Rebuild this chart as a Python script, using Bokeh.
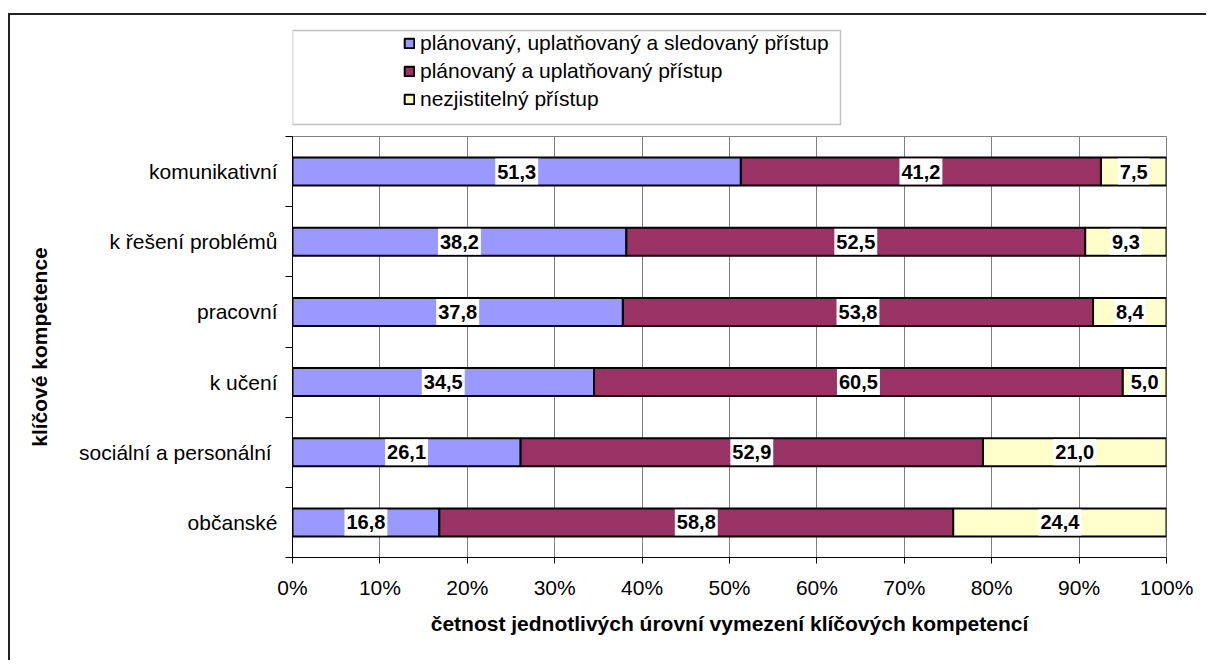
import numpy as np
from bokeh.plotting import figure
from bokeh.layouts import column
from bokeh.models import (Range1d, FixedTicker, PrintfTickFormatter, Legend,
                          LegendItem, BoxAnnotation)
from bokeh.core.properties import value
from bokeh.embed import file_html
from bokeh.resources import INLINE

# ---- data ----
categories = ["komunikativní", "k řešení problémů", "pracovní", "k učení",
              "sociální a personální ", "občanské"]
planned_applied_monitored = [51.3, 38.2, 37.8, 34.5, 26.1, 16.8]
planned_applied = [41.2, 52.5, 53.8, 60.5, 52.9, 58.8]
undeterminable = [7.5, 9.3, 8.4, 5.0, 21.0, 24.4]
series_names = ["plánovaný, uplatňovaný a sledovaný přístup",
                "plánovaný a uplatňovaný přístup",
                "nezjistitelný přístup"]
x_ticks = [0, 10, 20, 30, 40, 50, 60, 70, 80, 90, 100]
x_title = "četnost jednotlivých úrovní vymezení klíčových kompetencí"
y_title = "klíčové kompetence"

colors = ["#9999FF", "#993366", "#FFFFCC"]
FONT = "Liberation Sans"

n = len(categories)
ypos = [n - i - 0.5 for i in range(n)]
series = [planned_applied_monitored, planned_applied, undeterminable]

# stacked extents
lefts, rights = [], []
cum = np.zeros(n)
for vals in series:
    v = np.array(vals, dtype=float)
    lefts.append(cum.copy())
    rights.append(cum + v)
    cum = cum + v

# ---------------- legend panel ----------------
leg = figure(width=1196, height=120, output_backend="svg", toolbar_location=None,
             x_range=Range1d(0, 100), y_range=Range1d(0, n),
             x_axis_location=None, y_axis_location=None,
             min_border_left=282, min_border_right=40,
             min_border_top=5, min_border_bottom=5)
leg.xgrid.grid_line_color = None
leg.ygrid.grid_line_color = None
leg.outline_line_color = None
leg.border_fill_color = "white"
leg.background_fill_color = "white"

leg_renderers = []
for l, r_, color in zip(lefts, rights, colors):
    # legend-only copies of the series (hidden; they only supply legend glyphs)
    r = leg.hbar(y=ypos, left=l, right=r_, height=0.4,
                 fill_color=color, line_color="black", line_width=2)
    r.visible = False
    leg_renderers.append(r)

items = [LegendItem(label=name, renderers=[r]) for name, r in zip(series_names, leg_renderers)]
legend = Legend(items=items, location=(111, 19))
legend.border_line_alpha = 0
legend.background_fill_alpha = 0
legend.inactive_fill_alpha = 0
legend.padding = 0
legend.margin = 0
legend.spacing = 4
legend.glyph_width = 12
legend.glyph_height = 12
legend.label_standoff = 5
legend.label_height = 22
legend.label_text_font = FONT
legend.label_text_font_size = "21px"
legend.label_text_color = "black"
legend.label_text_baseline = "middle"
leg.add_layout(legend)

leg.add_layout(BoxAnnotation(left=282, right=830, top=15, bottom=109,
                             left_units="canvas", right_units="canvas",
                             top_units="canvas", bottom_units="canvas",
                             fill_alpha=0, line_color="#333333", line_width=1.5))

# ---------------- main chart ----------------
p = figure(width=1196, height=525, output_backend="svg", toolbar_location=None,
           x_range=Range1d(0, 100), y_range=Range1d(0, n),
           min_border_left=282, min_border_right=40,
           min_border_top=1, min_border_bottom=103)
p.background_fill_color = "white"
p.border_fill_color = "white"
p.outline_line_color = "#808080"
p.outline_line_width = 1

p.xgrid.ticker = FixedTicker(ticks=x_ticks)
p.xgrid.grid_line_color = "#808080"
p.xgrid.grid_line_width = 1
p.ygrid.grid_line_color = None

p.xaxis.ticker = FixedTicker(ticks=x_ticks)
p.xaxis.formatter = PrintfTickFormatter(format="%d%%")
p.xaxis.axis_label = x_title
p.xaxis.axis_line_color = "black"
p.xaxis.major_tick_line_color = "black"
p.xaxis.major_tick_out = 6
p.xaxis.major_tick_in = 0
p.xaxis.minor_tick_line_color = None
p.xaxis.major_label_standoff = 12
p.xaxis.axis_label_standoff = 10

p.yaxis.ticker = FixedTicker(ticks=ypos, minor_ticks=list(range(n + 1)))
p.yaxis.major_label_overrides = {y: c for y, c in zip(ypos, categories)}
p.yaxis.axis_label = y_title
p.yaxis.axis_line_color = "black"
p.yaxis.major_tick_line_color = None
p.yaxis.major_tick_out = 0
p.yaxis.major_tick_in = 0
p.yaxis.minor_tick_line_color = "black"
p.yaxis.minor_tick_out = 7
p.yaxis.minor_tick_in = 0
p.yaxis.major_label_standoff = 8
p.yaxis.axis_label_standoff = 25

for ax in (p.xaxis[0], p.yaxis[0]):
    ax.major_label_text_font = FONT
    ax.major_label_text_font_size = "21px"
    ax.major_label_text_color = "black"
    ax.axis_label_text_font = FONT
    ax.axis_label_text_font_size = "21px"
    ax.axis_label_text_font_style = "bold"
    ax.axis_label_text_color = "black"

for vals, l, r_, color in zip(series, lefts, rights, colors):
    p.hbar(y=ypos, left=l, right=r_, height=0.4,
           fill_color=color, line_color="black", line_width=2)
    mids = (l + r_) / 2
    labels = [f"{v:.1f}".replace(".", ",") for v in vals]
    p.text(x=mids, y=ypos, text=labels, text_align="center",
           text_baseline="middle", text_font=value(FONT),
           text_font_style="bold", text_font_size="20px", text_color="black",
           background_fill_color="white",
           padding=dict(left=2, right=2, top=6, bottom=6))

layout = column(leg, p, spacing=0,
                styles={"margin-left": "8px", "margin-top": "13px",
                        "border-left": "2px solid #222222",
                        "border-top": "2px solid #222222"})

open("out.html", "w").write(file_html(layout, INLINE))
